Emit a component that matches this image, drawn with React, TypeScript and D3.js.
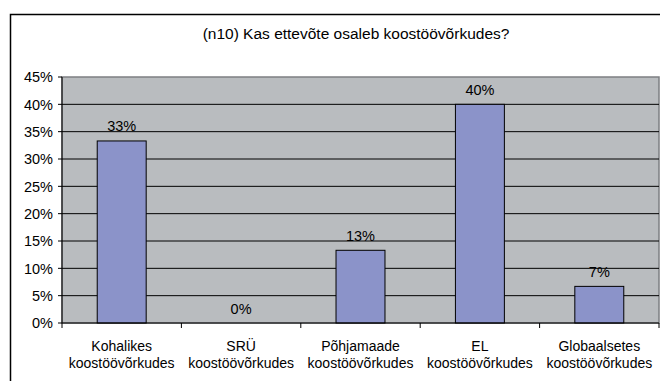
import React from "react";
import * as d3 from "d3";

const title = "(n10) Kas ettevõte osaleb koostöövõrkudes?";
const categoriesLine1 = ["Kohalikes", "SRÜ", "Põhjamaade", "EL", "Globaalsetes"];
const categoriesLine2 = ["koostöövõrkudes", "koostöövõrkudes", "koostöövõrkudes", "koostöövõrkudes", "koostöövõrkudes"];
const values = [33.3, 0, 13.3, 40, 6.7];
const valueLabels = ["33%", "0%", "13%", "40%", "7%"];
const yTicks = [0, 5, 10, 15, 20, 25, 30, 35, 40, 45];

const W = 660;
const H = 381;
const plot = { left: 62, right: 659, top: 77, bottom: 323 };
const font = "'Liberation Sans', Arial, sans-serif";

export default function App() {
  const x = d3
    .scaleBand<number>()
    .domain(d3.range(values.length))
    .range([plot.left, plot.right])
    .paddingInner(0.59)
    .paddingOuter(0.295);
  const xb = d3.scaleBand<number>().domain(d3.range(values.length)).range([plot.left, plot.right]);
  const y = d3.scaleLinear().domain([0, 45]).range([plot.bottom, plot.top]);

  return (
    <div style={{ position: "absolute", left: 0, top: 0 }}>
      <svg width={W} height={H} style={{ display: "block" }} fontFamily={font}>
        <rect x={0} y={0} width={W} height={H} fill="#fff" />
        <path d={`M10.5,${H} V14.5 H${W}`} fill="none" stroke="#000" strokeWidth={1.5} />
        <text x={356} y={39} textAnchor="middle" fontSize={15.5} fill="#000">
          {title}
        </text>
        <rect
          x={plot.left}
          y={plot.top}
          width={plot.right - plot.left}
          height={plot.bottom - plot.top}
          fill="#B9BCBF"
          stroke="#7d7f82"
          strokeWidth={1.5}
        />
        {yTicks.map((t) => (
          <g key={t}>
            {t > 0 && t < 45 && (
              <line x1={plot.left} x2={plot.right} y1={y(t)} y2={y(t)} stroke="#000" strokeWidth={1} />
            )}
            <line x1={plot.left - 4} x2={plot.left} y1={y(t)} y2={y(t)} stroke="#000" strokeWidth={1} />
            <text x={53} y={y(t)} dy="0.36em" textAnchor="end" fontSize={14.5} fill="#000">
              {t}%
            </text>
          </g>
        ))}
        {values.map((v, i) => (
          <g key={i}>
            {v > 0 && (
              <rect
                x={x(i)}
                y={y(v)}
                width={x.bandwidth()}
                height={y(0) - y(v)}
                fill="#8B93C9"
                stroke="#000"
                strokeWidth={1}
              />
            )}
            <text
              x={(x(i) as number) + x.bandwidth() / 2}
              y={y(v) - 9.5}
              textAnchor="middle"
              fontSize={14.5}
              fill="#000"
            >
              {valueLabels[i]}
            </text>
            <text x={(xb(i) as number) + xb.bandwidth() / 2} y={351} textAnchor="middle" fontSize={14} fill="#000">
              {categoriesLine1[i]}
            </text>
            <text x={(xb(i) as number) + xb.bandwidth() / 2} y={368} textAnchor="middle" fontSize={14} fill="#000">
              {categoriesLine2[i]}
            </text>
          </g>
        ))}
        {d3.range(values.length + 1).map((i) => {
          const xx = i < values.length ? (xb(i) as number) : plot.right;
          return <line key={i} x1={xx} x2={xx} y1={plot.bottom} y2={plot.bottom + 5} stroke="#000" strokeWidth={1} />;
        })}
        <line x1={plot.left} x2={plot.right} y1={plot.bottom} y2={plot.bottom} stroke="#000" strokeWidth={1} />
        <line x1={plot.left} x2={plot.left} y1={plot.top} y2={plot.bottom} stroke="#000" strokeWidth={1} />
      </svg>
    </div>
  );
}
